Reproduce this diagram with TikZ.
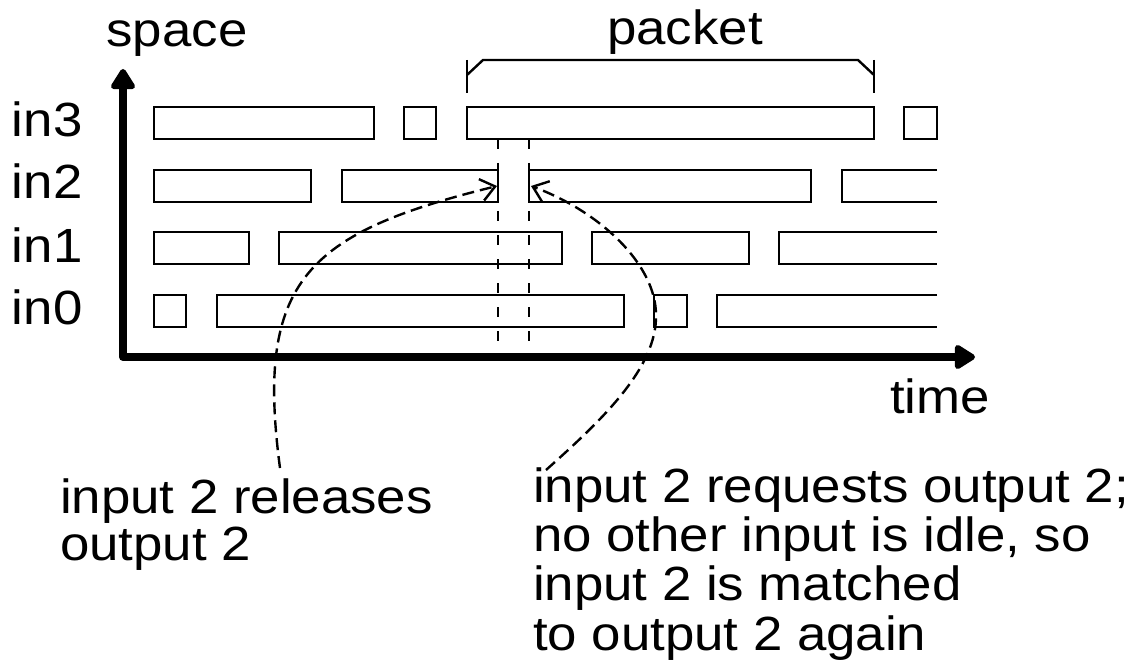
\documentclass[tikz,border=0pt]{standalone}
\usepackage{fontspec}
\setmainfont{Liberation Sans}[FakeStretch=1.1]
\usetikzlibrary{arrows.meta}

\begin{document}
\begin{tikzpicture}[x=1pt,y=-1pt,
  slot/.style={draw=black,line width=2.4pt},
  lbl/.style={inner sep=0pt,outer sep=0pt,font=\fontsize{48}{48}\selectfont},
  guide/.style={line width=2.4pt,dash pattern=on 10pt off 14pt},
  note/.style={line width=2.4pt,dash pattern=on 12pt off 6pt,
    -{Straight Barb[length=14pt,width=22pt,line width=2.4pt]}},
  axis/.style={line width=8pt,line join=round,
    {Triangle[width=27pt,length=23pt,round]}-{Triangle[width=27pt,length=23pt,round]}}]
\useasboundingbox (0,0) rectangle (1132,663);

% axes
\coordinate (ytop) at (123,69);
\coordinate (orig) at (123,357);
\coordinate (xend) at (975,357);
\draw[axis] (ytop) -- (orig) -- (xend);

% axis and row labels
\node[lbl,anchor=base] (space) at (177,47) {space};
\node[lbl,anchor=base] (time) at (940,413) {time};
\node[lbl,anchor=base west] (in3) at (12,137) {in3};
\node[lbl,anchor=base west] (in2) at (12,199) {in2};
\node[lbl,anchor=base west] (in1) at (12,262) {in1};
\node[lbl,anchor=base west] (in0) at (12,324) {in0};

% in3 slots
\draw[slot] (154,107) rectangle (374,139);
\draw[slot] (404,107) rectangle (436,139);
\draw[slot] (467,107) rectangle (874,139);
\draw[slot] (904,107) rectangle (937,139);
% in2 slots
\draw[slot] (154,170) rectangle (311,202);
\draw[slot] (342,170) rectangle (498,202);
\draw[slot] (529,170) rectangle (811,202);
\draw[slot] (937,170) -- (842,170) -- (842,202) -- (937,202);
% in1 slots
\draw[slot] (154,232) rectangle (249,264);
\draw[slot] (279,232) rectangle (562,264);
\draw[slot] (592,232) rectangle (749,264);
\draw[slot] (937,232) -- (779,232) -- (779,264) -- (937,264);
% in0 slots
\draw[slot] (154,295) rectangle (186,327);
\draw[slot] (217,295) rectangle (624,327);
\draw[slot] (654,295) rectangle (687,327);
\draw[slot] (937,295) -- (717,295) -- (717,327) -- (937,327);

% packet bracket
\draw[line width=2.4pt] (467,60) -- (467,93);
\draw[line width=2.4pt] (467,75) -- (483,60) -- (858,60) -- (874,75);
\draw[line width=2.4pt] (874,60) -- (874,93);
\node[lbl,anchor=base] (packet) at (685,45) {packet};

% idle gap of input 2
\coordinate (g1top) at (498,139);
\coordinate (g1bot) at (498,353);
\coordinate (g2top) at (529,139);
\coordinate (g2bot) at (529,353);
\draw[guide] (g1top) -- (g1bot);
\draw[guide] (g2top) -- (g2bot);

% annotations
\node[lbl,anchor=base west] (relnote) at (60,513)
  {\fontsize{48}{47}\selectfont\begin{tabular}[t]{@{}l@{}}input 2 releases\\output 2\end{tabular}};
\node[lbl,anchor=base west] (reqnote) at (533,502)
  {\fontsize{48}{49}\selectfont\begin{tabular}[t]{@{}l@{}}input 2 requests output 2;\\no other input is idle, so\\input 2 is matched\\to output 2 again\end{tabular}};

\coordinate (relfoot) at (280,468);
\coordinate (reltip) at (497,186);
\coordinate (reqfoot) at (546,470);
\coordinate (reqmid) at (656,315);
\coordinate (reqtip) at (531,186);
\draw[note] (relfoot) .. controls (255,280) and (307,233) .. (reltip);
\draw[note] (reqfoot) .. controls (602,420) and (657,368) .. (reqmid)
  .. controls (656,265) and (601,212) .. (reqtip);
\end{tikzpicture}
\end{document}
